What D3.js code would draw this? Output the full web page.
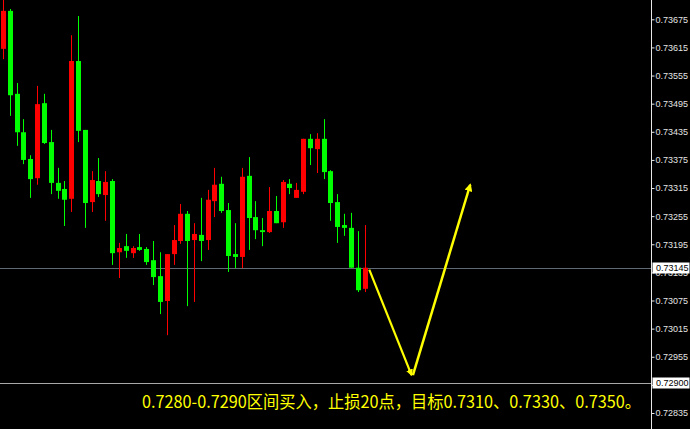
<!DOCTYPE html>
<html>
<head>
<meta charset="utf-8">
<script src="https://cdn.jsdelivr.net/npm/d3@7"></script>
<style>
  html, body { margin: 0; padding: 0; background: #000; }
  svg { display: block; }
</style>
</head>
<body>
<svg id="chart" width="690" height="429"></svg>
<script>
// ---- data ----
const opens  = [0.73612,0.73693,0.73516,0.73434,0.73377,0.73336,0.73496,0.73413,0.73326,0.73313,
                0.73292,0.73586,0.73439,0.73285,0.73330,0.73300,0.73330,0.73178,0.73191,0.73176,
                0.73189,0.73185,0.73161,0.73127,0.73074,0.73174,0.73202,0.73260,0.73204,0.73215,
                0.73204,0.73287,0.73324,0.73268,0.73174,0.73168,0.73341,0.73253,0.73225,0.73221,
                0.73266,0.73242,0.73324,0.73294,0.73307,0.73420,0.73398,0.73420,0.73351,0.73285,
                0.73236,0.73230,0.73145,0.73100];
const highs  = [0.73720,0.73697,0.73539,0.73462,0.73385,0.73533,0.73516,0.73439,0.73358,0.73330,
                0.73641,0.73682,0.73439,0.73351,0.73379,0.73351,0.73334,0.73198,0.73217,0.73191,
                0.73217,0.73189,0.73202,0.73178,0.73174,0.73236,0.73281,0.73266,0.73240,0.73294,
                0.73311,0.73358,0.73339,0.73283,0.73240,0.73358,0.73381,0.73287,0.73251,0.73317,
                0.73298,0.73332,0.73334,0.73326,0.73420,0.73430,0.73432,0.73462,0.73353,0.73302,
                0.73260,0.73262,0.73223,0.73236];
const lows   = [0.73590,0.73469,0.73405,0.73366,0.73294,0.73322,0.73409,0.73302,0.73292,0.73234,
                0.73264,0.73413,0.73230,0.73264,0.73296,0.73245,0.73151,0.73123,0.73166,0.73166,
                0.73181,0.73151,0.73108,0.73046,0.73001,0.73151,0.73196,0.73063,0.73072,0.73159,
                0.73183,0.73253,0.73262,0.73136,0.73144,0.73144,0.73183,0.73206,0.73191,0.73219,
                0.73240,0.73230,0.73302,0.73294,0.73302,0.73364,0.73347,0.73334,0.73245,0.73198,
                0.73213,0.73145,0.73093,0.73093];
const closes = [0.73693,0.73513,0.73434,0.73375,0.73334,0.73494,0.73411,0.73326,0.73309,0.73290,
                0.73586,0.73437,0.73283,0.73332,0.73302,0.73328,0.73176,0.73187,0.73181,0.73187,
                0.73183,0.73157,0.73125,0.73072,0.73174,0.73204,0.73260,0.73202,0.73217,0.73202,
                0.73290,0.73322,0.73266,0.73170,0.73168,0.73339,0.73251,0.73225,0.73221,0.73266,
                0.73240,0.73328,0.73315,0.73311,0.73420,0.73400,0.73420,0.73349,0.73283,0.73232,
                0.73230,0.73145,0.73097,0.73145];
const tickValues = [0.73675,0.73615,0.73555,0.73495,0.73435,0.73375,0.73315,0.73255,
                    0.73195,0.73135,0.73075,0.73015,0.72955,0.72895,0.72835];
const levelLines = [0.73145, 0.72900];
const levelLabels = ["0.73145", "0.72900"];
// projected path: [bar index, price]
const arrowDown = [[53.7, 0.73141], [59.9, 0.72916]];
const arrowUp   = [[60.1, 0.72916], [68.5, 0.73322]];
const note = "0.7280-0.7290区间买入，止损20点，目标0.7310、0.7330、0.7350。";

// ---- layout ----
const W = 690, H = 429, axisX = 651;
const svg = d3.select("#chart");
svg.append("rect").attr("width", W).attr("height", H).attr("fill", "#000");

const x = d3.scaleLinear().domain([0, 53]).range([3, 364.5]);
const y = d3.scaleLinear().domain([0.72835, 0.73675]).range([413, 19.3]);

const defs = svg.append("defs");
defs.append("clipPath").attr("id", "plot").append("rect")
  .attr("x", 0).attr("y", 0).attr("width", axisX).attr("height", H);
defs.append("marker").attr("id", "ah").attr("viewBox", "0 0 10 10")
  .attr("refX", 8).attr("refY", 5).attr("markerWidth", 3.2).attr("markerHeight", 3.2)
  .attr("markerUnits", "strokeWidth").attr("orient", "auto")
  .append("path").attr("d", "M0,0 L10,5 L0,10 Z").attr("fill", "#ffff00");

const plot = svg.append("g").attr("clip-path", "url(#plot)");

// level lines
plot.selectAll("line.level").data(levelLines).enter().append("line")
  .attr("class", "level")
  .attr("x1", 0).attr("x2", axisX)
  .attr("y1", d => Math.round(y(d)) + 0.5).attr("y2", d => Math.round(y(d)) + 0.5)
  .attr("stroke", (d, i) => i === 0 ? "#5f6a74" : "#a8a8a8").attr("stroke-width", 1);

// candles
const bars = d3.range(opens.length).map(i => ({
  i, o: opens[i], h: highs[i], l: lows[i], c: closes[i], up: closes[i] > opens[i]
}));
const colorOf = d => d.up ? "#ff0000" : "#00ff00";
const g = plot.append("g");
g.selectAll("line.wick").data(bars).enter().append("line")
  .attr("x1", d => Math.round(x(d.i)) + 0.5).attr("x2", d => Math.round(x(d.i)) + 0.5)
  .attr("y1", d => y(d.h)).attr("y2", d => y(d.l))
  .attr("stroke", colorOf).attr("stroke-width", 1);
g.selectAll("rect.body").data(bars).enter().append("rect")
  .attr("x", d => Math.round(x(d.i)) - 2)
  .attr("width", 5)
  .attr("y", d => y(Math.max(d.o, d.c)))
  .attr("height", d => Math.max(1, Math.abs(y(d.o) - y(d.c))))
  .attr("fill", colorOf);

// arrows
const lineGen = d3.line().x(d => x(d[0])).y(d => y(d[1]));
plot.append("path").attr("d", lineGen(arrowDown))
  .attr("stroke", "#ffff00").attr("stroke-width", 2.2).attr("fill", "none")
  .attr("marker-end", "url(#ah)");
plot.append("path").attr("d", lineGen(arrowUp))
  .attr("stroke", "#ffff00").attr("stroke-width", 2.5).attr("fill", "none")
  .attr("marker-end", "url(#ah)");

// note text
svg.append("text").attr("x", 142).attr("y", 408)
  .attr("font-family", "'Noto Sans CJK SC', 'Noto Sans', sans-serif")
  .attr("font-size", 17).attr("fill", "#ffff00")
  .attr("textLength", 499).attr("lengthAdjust", "spacingAndGlyphs")
  .text(note);

// right axis
svg.append("line").attr("x1", axisX + 0.5).attr("x2", axisX + 0.5)
  .attr("y1", 0).attr("y2", H).attr("stroke", "#e8e8e8").attr("stroke-width", 1);
const axisG = svg.append("g");
const yAxis = d3.axisRight(y).tickValues(tickValues).tickSize(3).tickPadding(1)
  .tickFormat(d3.format(".5f"));
axisG.attr("transform", `translate(${axisX + 0.5},0)`).call(yAxis);
axisG.select(".domain").remove();
axisG.selectAll(".tick line").attr("stroke", "#e8e8e8");
axisG.selectAll(".tick text").attr("fill", "#e4e4e4")
  .attr("font-family", "'Liberation Sans', Arial, sans-serif").attr("font-size", 9);

// level labels
const lab = svg.selectAll("g.lab").data(levelLines).enter().append("g")
  .attr("transform", d => `translate(${axisX + 1},${Math.round(y(d))})`);
lab.append("rect").attr("x", 0.5).attr("y", -5.5).attr("width", 37).attr("height", 11)
  .attr("fill", "#fff");
lab.append("text").attr("x", 4).attr("y", 0).attr("dy", "0.34em")
  .attr("font-family", "'Liberation Sans', Arial, sans-serif").attr("font-size", 9)
  .attr("fill", "#000").text((d, i) => levelLabels[i]);
</script>
</body>
</html>
